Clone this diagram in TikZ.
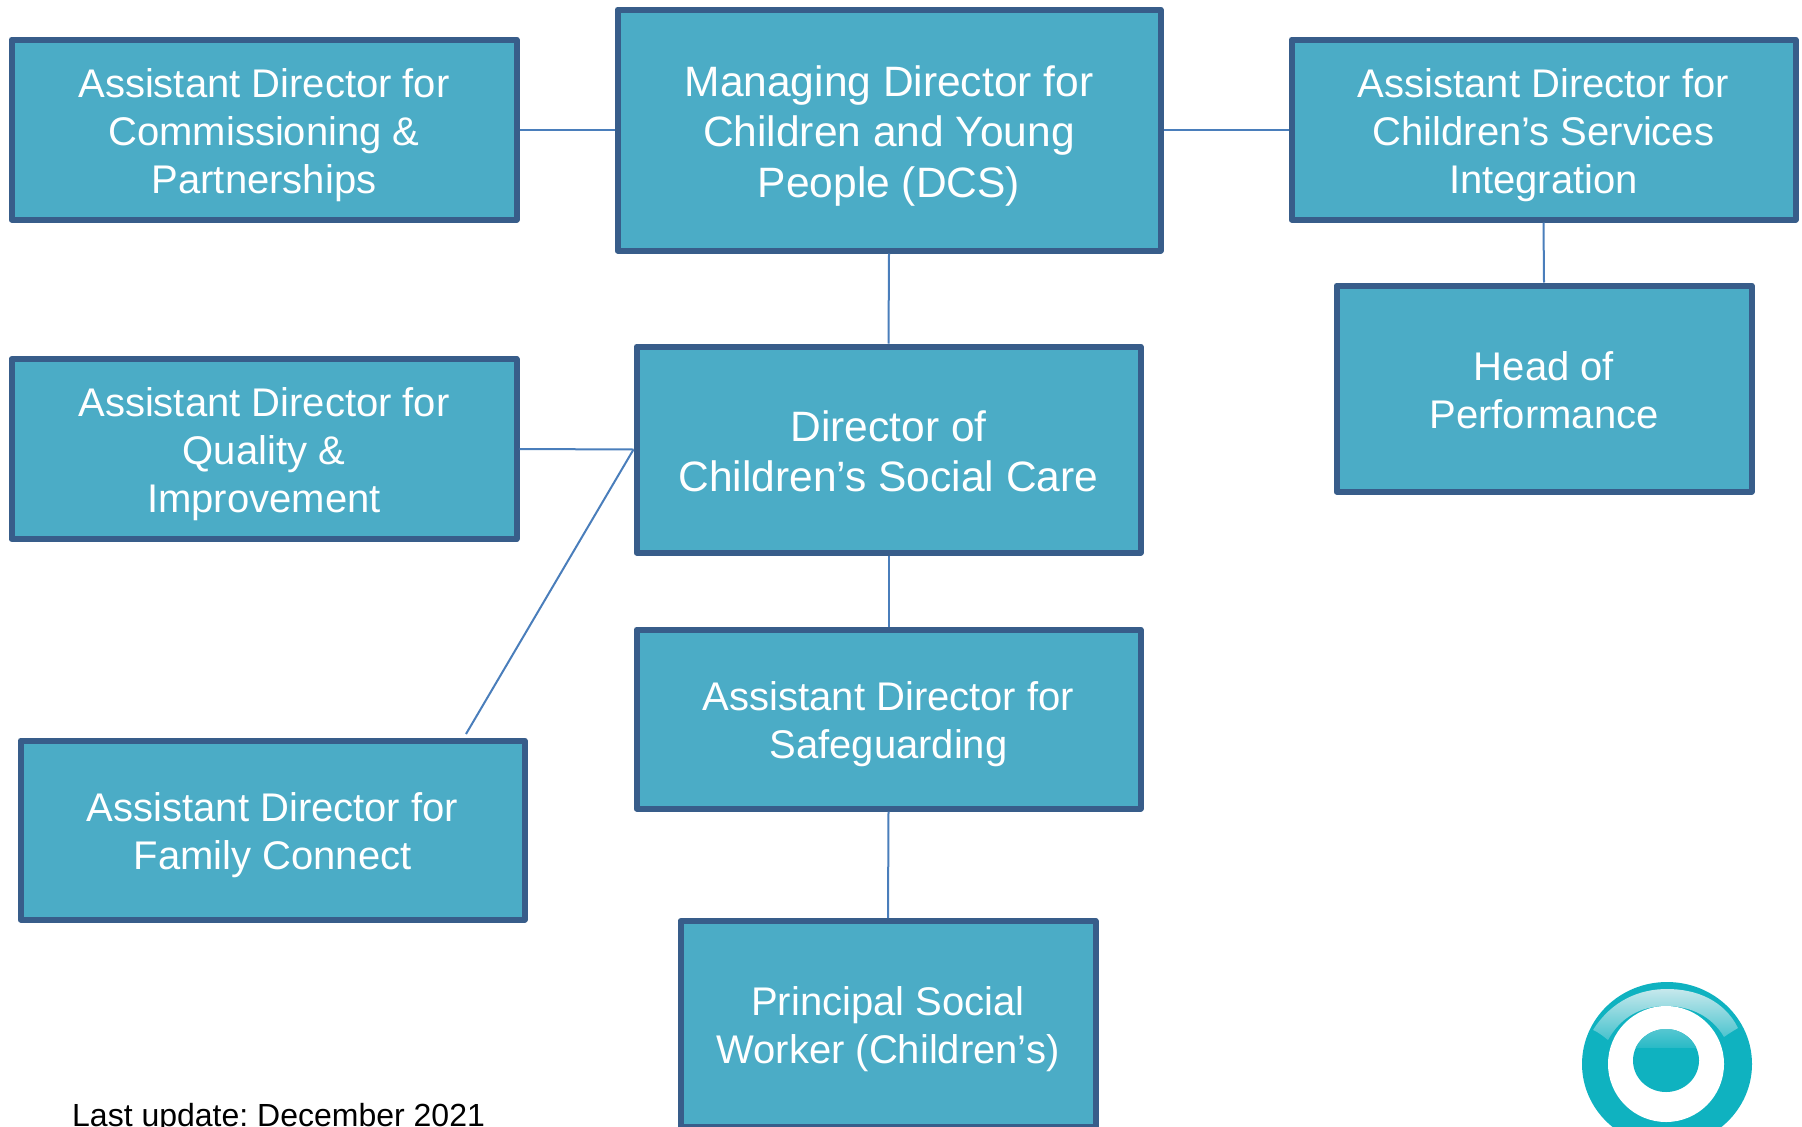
\documentclass[tikz,border=0pt]{standalone}
\usepackage{fontspec}
\setmainfont{Liberation Sans}
\usetikzlibrary{positioning}
\definecolor{boxfill}{HTML}{4BACC6}
\definecolor{boxedge}{HTML}{385D8A}
\definecolor{linkblue}{HTML}{4A7EBB}
\definecolor{logoteal}{HTML}{0FB2C0}
\definecolor{logolight}{HTML}{C6E8EC}
\newcommand{\boxtext}[1]{\rule{0pt}{1em}#1\rule[-.21em]{0pt}{.21em}}
\frenchspacing
\begin{document}
\begin{tikzpicture}[x=1pt,y=-1pt,
  orgbox/.style={draw=boxedge, fill=boxfill, line width=6pt, line join=round, text=white, align=center, inner sep=0pt, font=\fontsize{40}{48}\selectfont},
  bigbox/.style={orgbox, font=\fontsize{42.5}{50.5}\selectfont},
  link/.style={draw=linkblue, line width=2pt}]
\clip (0,0) rectangle (1802,1127);
\useasboundingbox (0,0) rectangle (1802,1127);
% boxes
\node[bigbox, minimum width=543pt, minimum height=241pt] (managing) at (889,130) {\boxtext{Managing Director for\\Children and Young\\People (DCS)}};
\node[orgbox, minimum width=505pt, minimum height=180pt] (commissioning) at (264,129.5) {\boxtext{Assistant Director for\\Commissioning \&\\Partnerships}};
\node[orgbox, minimum width=504pt, minimum height=180pt] (integration) at (1543.5,129.5) {\boxtext{Assistant Director for\\Children’s Services\\Integration}};
\node[orgbox, minimum width=415pt, minimum height=206pt] (performance) at (1544,388.5) {\boxtext{Head of\\Performance}};
\node[bigbox, minimum width=504pt, minimum height=206pt] (director) at (888.5,449.5) {\boxtext{Director of\\Children’s Social Care}};
\node[orgbox, minimum width=505pt, minimum height=180pt] (quality) at (264,449) {\boxtext{Assistant Director for\\Quality \&\\Improvement}};
\node[orgbox, minimum width=504pt, minimum height=179pt] (family) at (272.5,830) {\boxtext{Assistant Director for\\Family Connect}};
\node[orgbox, minimum width=504pt, minimum height=179pt] (safeguarding) at (888.5,719) {\boxtext{Assistant Director for\\Safeguarding}};
\node[orgbox, minimum width=415pt, minimum height=206pt] (principal) at (888,1024) {\boxtext{Principal Social\\Worker (Children’s)}};
\node[anchor=base west, inner sep=0pt, font=\fontsize{32}{38}\selectfont] (updated) at (72,1126) {Last update: December 2021};
% links
\coordinate (familyend) at (466,734);
\draw[link] (commissioning.east) -- (managing.west |- commissioning.east);
\draw[link] (managing.east |- integration.west) -- (integration.west);
\draw[link] (managing.south) -- (director.north);
\draw[link] (integration.south) -- (performance.north);
\draw[link] (quality.east) -- (director.west);
\draw[link] (familyend) -- (director.west);
\draw[link] (director.south) -- (safeguarding.north);
\draw[link] (safeguarding.south) -- (principal.north);
% logo
\fill[logoteal] (1667,1064) ellipse (85 and 82);
\shade[top color=logolight, bottom color=logoteal!70!logolight] (1593,1030) .. controls (1612,1000) and (1640,989) .. (1667,989) .. controls (1696,989) and (1724,1000) .. (1738,1028) .. controls (1733,1031) and (1728,1034) .. (1724,1037) .. controls (1712,1016) and (1690,1006) .. (1666,1006) .. controls (1640,1006) and (1620,1018) .. (1608,1040) .. controls (1603,1036) and (1598,1032) .. (1593,1030) -- cycle;
\fill[white] (1666,1064) ellipse (58 and 58);
\fill[logoteal] (1666,1060.5) ellipse (33 and 31.5);
\begin{scope}
\clip (1666,1060.5) ellipse (33 and 31.5);
\shade[top color=logoteal!60!logolight, bottom color=logoteal!85!logolight] (1630,1028) rectangle (1702,1047);
\end{scope}
\end{tikzpicture}
\end{document}
